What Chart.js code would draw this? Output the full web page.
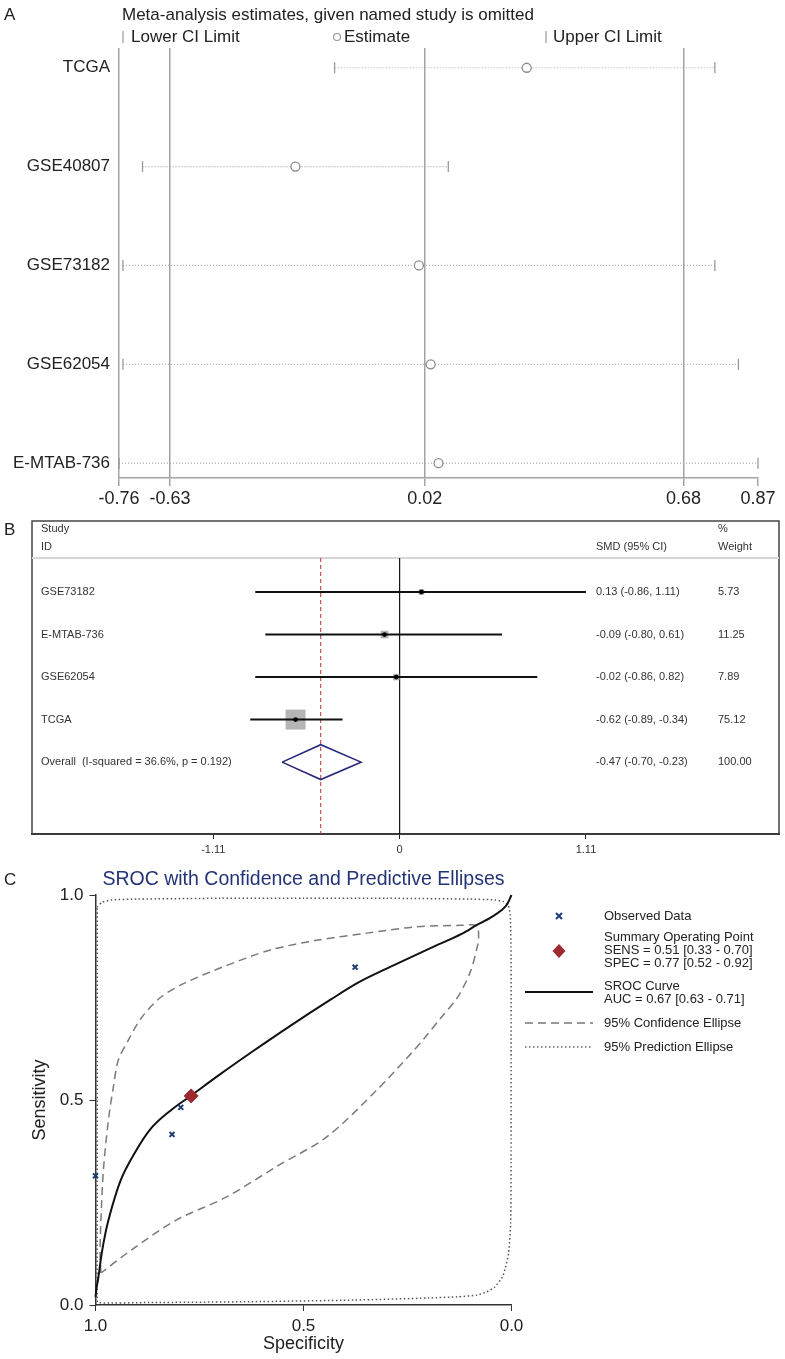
<!DOCTYPE html>
<html>
<head>
<meta charset="utf-8">
<script src="https://cdn.jsdelivr.net/npm/chart.js@4.4.0/dist/chart.umd.min.js"></script>
<style>
html, body { margin: 0; padding: 0; background: #fff; }
#wrap { position: relative; width: 785px; height: 1359px; overflow: hidden; background: #fff; }
canvas { position: absolute; left: 0; top: 0; }
</style>
</head>
<body>
<div id="wrap">
    <canvas id="chartA" width="785" height="1359"></canvas>
    <canvas id="chartB" width="785" height="1359"></canvas>
    <canvas id="chartC" width="785" height="1359"></canvas>
</div>
<script>
// ---- Panel A: estimates with one study omitted ----
const studiesA = ['TCGA', 'GSE40807', 'GSE73182', 'GSE62054', 'E-MTAB-736'];
const lowerA = [-0.21, -0.70, -0.75, -0.75, -0.76];
const estimateA = [0.28, -0.31, 0.005, 0.035, 0.055];
const upperA = [0.76, 0.08, 0.76, 0.82, 0.87];
const ticksA = [-0.76, -0.63, 0.02, 0.68, 0.87];

// ---- Panel B: forest plot ----
const studiesB = ['GSE73182', 'E-MTAB-736', 'GSE62054', 'TCGA'];
const smdB = [0.13, -0.09, -0.02, -0.62];
const lowB = [-0.86, -0.80, -0.86, -0.89];
const highB = [1.11, 0.61, 0.82, -0.34];
const weightB = [5.73, 11.25, 7.89, 75.12];
const overallB = [-0.47, -0.70, -0.23]; // estimate, lower, upper
const ticksB = [-1.11, 0, 1.11];

// ---- Panel C: SROC (x = specificity, y = sensitivity) ----
const observedSpec = [0.376, 0.795, 0.816, 1.0];
const observedSens = [0.824, 0.482, 0.416, 0.315];
const summaryPoint = [0.77, 0.51];
const srocCurve = [
    [1.0, 0.02], [0.997, 0.045], [0.994, 0.061], [0.986, 0.12], [0.976, 0.176],
    [0.96, 0.24], [0.94, 0.303], [0.905, 0.372], [0.867, 0.43], [0.82, 0.474],
    [0.77, 0.511], [0.70, 0.563], [0.62, 0.62], [0.53, 0.682], [0.436, 0.744],
    [0.371, 0.785], [0.28, 0.83], [0.196, 0.87], [0.12, 0.905], [0.083, 0.927],
    [0.05, 0.945], [0.025, 0.962], [0.01, 0.978], [0.0, 1.0]
];
const confEllipse = [
    [0.987, 0.078], [0.989, 0.127], [0.987, 0.207], [0.981, 0.329], [0.969, 0.451],
    [0.957, 0.532], [0.945, 0.598], [0.921, 0.646], [0.89, 0.70], [0.844, 0.75],
    [0.786, 0.785], [0.695, 0.824], [0.58, 0.866], [0.465, 0.89], [0.348, 0.907],
    [0.233, 0.922], [0.12, 0.926], [0.084, 0.925], [0.079, 0.897], [0.084, 0.866],
    [0.10, 0.81], [0.13, 0.75], [0.17, 0.70], [0.21, 0.65], [0.24, 0.615],
    [0.324, 0.524], [0.444, 0.41], [0.566, 0.337], [0.686, 0.263], [0.806, 0.207],
    [0.914, 0.134], [0.987, 0.078]
];
const predEllipse = [
    [0.996, 0.97], [0.985, 0.982], [0.96, 0.988], [0.9, 0.99], [0.7, 0.992],
    [0.5, 0.992], [0.3, 0.992], [0.1, 0.99], [0.04, 0.988], [0.02, 0.984],
    [0.008, 0.975], [0.003, 0.95], [0.001, 0.85], [0.001, 0.6], [0.001, 0.35],
    [0.002, 0.2], [0.007, 0.127], [0.015, 0.09], [0.022, 0.068], [0.04, 0.044],
    [0.06, 0.032], [0.083, 0.024], [0.13, 0.02], [0.2, 0.017], [0.38, 0.012],
    [0.63, 0.008], [0.87, 0.006], [0.994, 0.006], [0.996, 0.02], [0.996, 0.2],
    [0.996, 0.5], [0.996, 0.8], [0.996, 0.97]
];
const ticksC = [0, 0.5, 1];

const FONT = '"Liberation Sans", Arial, Helvetica, sans-serif';
Chart.defaults.font.family = FONT;
Chart.defaults.color = '#222';

const baseOptions = {
    responsive: false,
    animation: false,
    events: [],
    plugins: { legend: { display: false }, tooltip: { enabled: false } }
};

// ================= Panel A =================
const grayA = '#a3a3a3';

const textA = {
    id: 'textA',
    afterDraw(chart) {
        const ctx = chart.ctx;
        ctx.save();
        ctx.textBaseline = 'middle';
        ctx.fillStyle = '#222';
        ctx.font = '17px ' + FONT;
        ctx.fillText('A', 4, 15);
        ctx.fillText('Meta-analysis estimates, given named study is omitted', 122, 15);
        // legend row
        ctx.fillText('Lower CI Limit', 131, 37);
        ctx.fillText('Estimate', 344, 37);
        ctx.fillText('Upper CI Limit', 553, 37);
        ctx.strokeStyle = '#999';
        ctx.lineWidth = 1.2;
        ctx.beginPath();
        ctx.moveTo(123, 31); ctx.lineTo(123, 43);
        ctx.moveTo(546, 31); ctx.lineTo(546, 43);
        ctx.stroke();
        ctx.beginPath();
        ctx.arc(337, 37, 3.5, 0, Math.PI * 2);
        ctx.stroke();
        ctx.restore();
    }
};

new Chart(document.getElementById('chartA'), {
    type: 'scatter',
    data: {
        datasets: [
            {
                data: estimateA.map((v, i) => ({ x: v, y: i })),
                pointStyle: 'circle', pointRadius: 4.5,
                pointBackgroundColor: '#fff', pointBorderColor: '#8c8c8c', pointBorderWidth: 1.3,
                clip: false
            },
            {
                data: studiesA.flatMap((s, i) => [{ x: lowerA[i], y: i }, { x: upperA[i], y: i }]),
                pointStyle: 'line', pointRotation: 90, pointRadius: 5.5,
                pointBorderColor: '#9a9a9a', pointBorderWidth: 1.3,
                clip: false
            },
            ...studiesA.map((s, i) => ({
                data: [{ x: lowerA[i], y: i }, { x: upperA[i], y: i }],
                showLine: true, borderColor: '#ababab', borderWidth: 1.2, borderDash: [1, 2],
                pointRadius: 0, clip: false
            }))
        ]
    },
    options: {
        ...baseOptions,
        layout: { autoPadding: false, padding: { left: 0, top: 48, right: 27, bottom: 851 } },
        scales: {
            x: {
                type: 'linear', min: -0.76, max: 0.87,
                afterBuildTicks: s => { s.ticks = ticksA.map(v => ({ value: v })); },
                afterFit: s => { s.height = 30; },
                ticks: { callback: v => v.toFixed(2), font: { size: 18 }, color: '#222', padding: 2, maxRotation: 0, autoSkip: false },
                grid: {
                    color: c => (c.tick && c.tick.value === 0.87) ? 'rgba(0,0,0,0)' : grayA,
                    lineWidth: 1.5, tickColor: grayA, tickLength: 8
                },
                border: { display: true, color: grayA, width: 1.5 }
            },
            y: {
                type: 'linear', reverse: true, min: -0.2, max: 4.15,
                afterBuildTicks: s => { s.ticks = studiesA.map((_, i) => ({ value: i })); },
                afterFit: s => { s.width = 119; },
                ticks: { callback: v => studiesA[v], font: { size: 17 }, color: '#222', padding: 9, autoSkip: false },
                grid: { display: false, drawTicks: false },
                border: { display: false }
            }
        }
    },
    plugins: [textA]
});

// ================= Panel B =================
const xMinB = -2.19, xMaxB = 2.26, yHeadB = 0.2, yMaxB = 6.69;

const textB = {
    id: 'textB',
    beforeDatasetsDraw(chart) {
        const ctx = chart.ctx, a = chart.chartArea;
        ctx.save();
        ctx.strokeStyle = '#444';
        ctx.lineWidth = 1.5;
        ctx.strokeRect(a.left, a.top, a.right - a.left, a.bottom - a.top);
        ctx.restore();
    },
    afterDraw(chart) {
        const ctx = chart.ctx, y = chart.scales.y;
        ctx.save();
        ctx.textBaseline = 'middle';
        ctx.fillStyle = '#222';
        ctx.font = '17px ' + FONT;
        ctx.fillText('B', 4, 530);
        ctx.fillStyle = '#333';
        ctx.font = '11px ' + FONT;
        ctx.fillText('Study', 41, 529);
        ctx.fillText('ID', 41, 547);
        ctx.fillText('SMD (95% CI)', 596, 547);
        ctx.fillText('%', 718, 529);
        ctx.fillText('Weight', 718, 547);
        const f = v => v.toFixed(2);
        studiesB.forEach((s, i) => {
            const py = y.getPixelForValue(i + 1);
            ctx.fillText(s, 41, py);
            ctx.fillText(f(smdB[i]) + ' (' + f(lowB[i]) + ', ' + f(highB[i]) + ')', 596, py);
            ctx.fillText(f(weightB[i]), 718, py);
        });
        const po = y.getPixelForValue(5);
        ctx.fillText('Overall  (I-squared = 36.6%, p = 0.192)', 41, po);
        ctx.fillText(f(overallB[0]) + ' (' + f(overallB[1]) + ', ' + f(overallB[2]) + ')', 596, po);
        ctx.fillText('100.00', 718, po);
        ctx.restore();
    }
};

new Chart(document.getElementById('chartB'), {
    type: 'scatter',
    data: {
        datasets: [
            {   // point estimates
                order: 1,
                data: smdB.map((v, i) => ({ x: v, y: i + 1 })),
                pointStyle: 'circle', pointRadius: 2.4,
                pointBackgroundColor: '#000', pointBorderWidth: 0
            },
            ...studiesB.map((s, i) => ({
                order: 2,
                data: [{ x: lowB[i], y: i + 1 }, { x: highB[i], y: i + 1 }],
                showLine: true, borderColor: '#111', borderWidth: 2, pointRadius: 0
            })),
            {   // weight boxes
                order: 3,
                data: smdB.map((v, i) => ({ x: v, y: i + 1 })),
                pointStyle: 'rect', pointRadius: weightB.map(w => Math.sqrt(w) * 1.63),
                pointBackgroundColor: '#b5b5b5', pointBorderWidth: 0
            },
            {   // overall diamond
                order: 1,
                data: [
                    { x: overallB[1], y: 5 }, { x: overallB[0], y: 4.59 },
                    { x: overallB[2], y: 5 }, { x: overallB[0], y: 5.41 },
                    { x: overallB[1], y: 5 }
                ],
                showLine: true, borderColor: '#26297a', borderWidth: 1.6, pointRadius: 0
            },
            {   // overall effect line
                order: 4,
                data: [{ x: overallB[0], y: yHeadB }, { x: overallB[0], y: yMaxB }],
                showLine: true, borderColor: '#b33030', borderWidth: 1, borderDash: [4, 3], pointRadius: 0
            },
            {   // null line
                order: 4,
                data: [{ x: 0, y: yHeadB }, { x: 0, y: yMaxB }],
                showLine: true, borderColor: '#111', borderWidth: 1.2, pointRadius: 0
            },
            {   // header separator
                order: 5,
                data: [{ x: xMinB, y: yHeadB }, { x: xMaxB, y: yHeadB }],
                showLine: true, borderColor: '#d6d6d6', borderWidth: 2, pointRadius: 0
            }
        ]
    },
    options: {
        ...baseOptions,
        layout: { autoPadding: false, padding: { left: 32, top: 521, right: 6, bottom: 499 } },
        scales: {
            x: {
                type: 'linear', min: xMinB, max: xMaxB,
                afterBuildTicks: s => { s.ticks = ticksB.map(v => ({ value: v })); },
                afterFit: s => { s.height = 26; },
                ticks: { callback: v => v === 0 ? '0' : v.toFixed(2), font: { size: 11 }, color: '#333', padding: 4, maxRotation: 0, autoSkip: false },
                grid: { drawOnChartArea: false, tickLength: 5, tickColor: '#222', color: '#222' },
                border: { display: true, color: '#222', width: 2 }
            },
            y: { type: 'linear', display: false, reverse: true, min: -0.67, max: yMaxB }
        }
    },
    plugins: [textB]
});

// ================= Panel C =================
const navy = '#1f3b78';
const red = '#9c2a2e';

const textC = {
    id: 'textC',
    afterDraw(chart) {
        const ctx = chart.ctx, a = chart.chartArea;
        ctx.save();
        ctx.textBaseline = 'middle';
        ctx.fillStyle = '#222';
        ctx.font = '17px ' + FONT;
        ctx.fillText('C', 4, 880);
        ctx.fillStyle = '#243375';
        ctx.font = '19.5px ' + FONT;
        ctx.textAlign = 'center';
        ctx.fillText('SROC with Confidence and Predictive Ellipses', (a.left + a.right) / 2, 880);
        ctx.textAlign = 'left';

        // legend
        ctx.fillStyle = '#222';
        ctx.font = '13px ' + FONT;
        const tx = 604;
        ctx.fillText('Observed Data', tx, 916);
        ctx.fillText('Summary Operating Point', tx, 937);
        ctx.fillText('SENS = 0.51 [0.33 - 0.70]', tx, 950);
        ctx.fillText('SPEC = 0.77 [0.52 - 0.92]', tx, 963);
        ctx.fillText('SROC Curve', tx, 986);
        ctx.fillText('AUC = 0.67 [0.63 - 0.71]', tx, 999);
        ctx.fillText('95% Confidence Ellipse', tx, 1023);
        ctx.fillText('95% Prediction Ellipse', tx, 1047);

        ctx.strokeStyle = navy;
        ctx.lineWidth = 2;
        ctx.beginPath();
        ctx.moveTo(556, 913); ctx.lineTo(562, 919);
        ctx.moveTo(562, 913); ctx.lineTo(556, 919);
        ctx.stroke();

        ctx.fillStyle = red;
        ctx.beginPath();
        ctx.moveTo(559, 944); ctx.lineTo(565.5, 951); ctx.lineTo(559, 958); ctx.lineTo(552.5, 951);
        ctx.closePath();
        ctx.fill();

        ctx.strokeStyle = '#111';
        ctx.lineWidth = 2;
        ctx.beginPath(); ctx.moveTo(525, 992); ctx.lineTo(593, 992); ctx.stroke();
        ctx.strokeStyle = '#777';
        ctx.lineWidth = 1.5;
        ctx.setLineDash([8, 5]);
        ctx.beginPath(); ctx.moveTo(525, 1023); ctx.lineTo(593, 1023); ctx.stroke();
        ctx.strokeStyle = '#666';
        ctx.setLineDash([1.5, 2.5]);
        ctx.beginPath(); ctx.moveTo(525, 1047); ctx.lineTo(593, 1047); ctx.stroke();
        ctx.restore();
    }
};

const toXY = arr => arr.map(p => ({ x: p[0], y: p[1] }));

new Chart(document.getElementById('chartC'), {
    type: 'scatter',
    data: {
        datasets: [
            {   // observed data
                order: 1,
                data: observedSpec.map((v, i) => ({ x: v, y: observedSens[i] })),
                pointStyle: 'crossRot', pointRadius: 3.5,
                pointBorderColor: navy, pointBorderWidth: 2, clip: false
            },
            {   // summary operating point
                order: 2,
                data: [{ x: summaryPoint[0], y: summaryPoint[1] }],
                pointStyle: 'rectRot', pointRadius: 7,
                pointBackgroundColor: red, pointBorderColor: red, pointBorderWidth: 1
            },
            {   // SROC curve
                order: 3,
                data: toXY(srocCurve),
                showLine: true, borderColor: '#111', borderWidth: 2,
                cubicInterpolationMode: 'monotone',
                pointRadius: 0, clip: false
            },
            {   // confidence ellipse
                order: 4,
                data: toXY(confEllipse),
                showLine: true, borderColor: '#7a7a7a', borderWidth: 1.5, borderDash: [8, 5],
                tension: 0.3, pointRadius: 0, clip: false
            },
            {   // prediction ellipse
                order: 5,
                data: toXY(predEllipse),
                showLine: true, borderColor: '#555', borderWidth: 1.5, borderDash: [1.5, 2.5],
                tension: 0.2, pointRadius: 0, clip: false
            }
        ]
    },
    options: {
        ...baseOptions,
        layout: { autoPadding: false, padding: { left: 25, top: 895, right: 273.5, bottom: 0 } },
        scales: {
            x: {
                type: 'linear', min: 0, max: 1, reverse: true,
                afterBuildTicks: s => { s.ticks = ticksC.map(v => ({ value: v })); },
                afterFit: s => { s.height = 54; },
                ticks: { callback: v => v.toFixed(1), font: { size: 17, lineHeight: 1 }, color: '#222', padding: 7, maxRotation: 0, autoSkip: false },
                grid: { drawOnChartArea: false, tickLength: 6, tickColor: '#333', color: '#333' },
                border: { display: true, color: '#333', width: 1.5 },
                title: { display: true, text: 'Specificity', font: { size: 18, lineHeight: 1 }, color: '#222', padding: { top: 0, bottom: 6 } }
            },
            y: {
                type: 'linear', min: 0, max: 1,
                afterBuildTicks: s => { s.ticks = ticksC.map(v => ({ value: v })); },
                afterFit: s => { s.width = 70.5; },
                ticks: { callback: v => v.toFixed(1), font: { size: 17 }, color: '#222', padding: 6, autoSkip: false },
                grid: { drawOnChartArea: false, tickLength: 6, tickColor: '#333', color: '#333' },
                border: { display: true, color: '#333', width: 1.5 },
                title: { display: true, text: 'Sensitivity', font: { size: 18 }, color: '#222', padding: { top: 4, bottom: 0 } }
            }
        }
    },
    plugins: [textC]
});
</script>
</body>
</html>
